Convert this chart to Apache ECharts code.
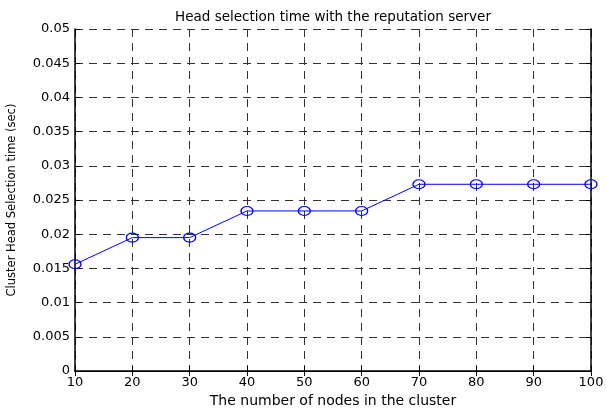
<!DOCTYPE html>
<html><head><meta charset="utf-8">
<script src="https://cdn.jsdelivr.net/npm/echarts@6/dist/echarts.min.js"></script>
<style>html,body{margin:0;padding:0;background:#fff}#c{width:606px;height:409px}</style>
</head><body><div id="c"></div>
<script>
const nodes = [10, 20, 30, 40, 50, 60, 70, 80, 90, 100];
const selTime = [0.0156, 0.0195, 0.0195, 0.0234, 0.0234, 0.0234, 0.0273, 0.0273, 0.0273, 0.0273];
const titleText = 'Head selection time with the reputation server';
const xName = 'The number of nodes in the cluster';
const yName = 'Cluster Head Selection time (sec)';

const font = 'DejaVu Sans, Liberation Sans, Arial, sans-serif';
const chart = echarts.init(document.getElementById('c'));
const gridLine = {show: true, lineStyle: {color: '#333', type: [8, 6], width: 1}};
const tick = {show: true, inside: true, length: 5, lineStyle: {color: '#000'}};
const axLine = {show: true, lineStyle: {color: '#000', width: 1.5}};
chart.setOption({
  animation: false,
  title: {text: titleText, left: 328, top: 5, textAlign: 'center',
    textStyle: {fontFamily: font, fontSize: 13.5, fontWeight: 'normal', color: '#000'}},
  grid: {left: 75, top: 29, width: 516, height: 342, show: false,
    containLabel: false, outerBoundsMode: 'none'},
  xAxis: [{type: 'value', min: 10, max: 100, interval: 10,
    name: xName, nameLocation: 'middle', nameGap: 21,
    nameTextStyle: {fontFamily: font, fontSize: 14, color: '#000'},
    axisLine: axLine, axisTick: tick,
    axisLabel: {fontFamily: font, fontSize: 13, color: '#000', margin: 5},
    splitLine: gridLine},
   {type: 'value', position: 'top', min: 10, max: 100, interval: 10,
    axisLine: {show: true, lineStyle: {color: '#000', width: 1}}, axisTick: tick,
    axisLabel: {show: false}, splitLine: {show: false}}],
  yAxis: [{type: 'value', min: 0, max: 0.05, interval: 0.005,
    name: yName, nameLocation: 'middle', nameGap: 57, nameRotate: 90,
    nameTextStyle: {fontFamily: font, fontSize: 11.5, color: '#000'},
    axisLine: axLine, axisTick: tick,
    axisLabel: {fontFamily: font, fontSize: 13, color: '#000', margin: 5,
      formatter: v => String(Number(v.toFixed(4)))},
    splitLine: gridLine},
   {type: 'value', position: 'right', min: 0, max: 0.05, interval: 0.005,
    axisLine: {show: true, lineStyle: {color: '#000', width: 1.5}}, axisTick: tick,
    axisLabel: {show: false}, splitLine: {show: false}}],
  series: [{type: 'line', data: nodes.map((n, i) => [n, selTime[i]]),
    xAxisIndex: 0, yAxisIndex: 0,
    symbol: 'circle', symbolSize: [12, 9], showAllSymbol: true,
    lineStyle: {color: '#0000ff', width: 1},
    itemStyle: {color: 'rgba(0,0,0,0)', borderColor: '#0000ff', borderWidth: 1.2}}]
});
</script></body></html>
